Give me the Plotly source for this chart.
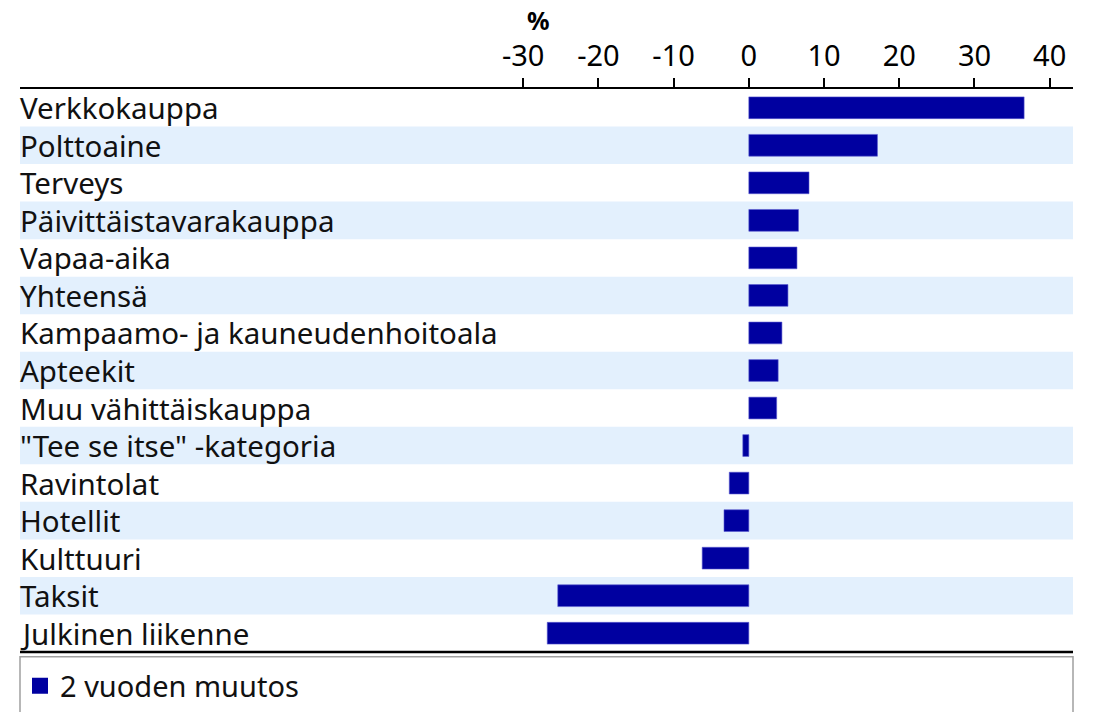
import plotly.graph_objects as go

# Données
categories = [
    "Verkkokauppa", "Polttoaine", "Terveys", "Päivittäistavarakauppa", "Vapaa-aika",
    "Yhteensä", "Kampaamo- ja kauneudenhoitoala", "Apteekit", "Muu vähittäiskauppa",
    "\"Tee se itse\" -kategoria", "Ravintolat", "Hotellit", "Kulttuuri", "Taksit",
    "Julkinen liikenne",
]
muutos = [36.6, 17.1, 8.0, 6.6, 6.4, 5.2, 4.4, 3.9, 3.7, -0.8, -2.6, -3.3, -6.2, -25.4, -26.8]
tick_vals = [-30, -20, -10, 0, 10, 20, 30, 40]
serie_nom = "2 vuoden muutos"

police = "Noto Sans"
bleu = "#0000a0"
rayure = "#e3f0fd"

fig = go.Figure()

fig.add_trace(go.Bar(
    y=categories,
    x=muutos,
    orientation="h",
    name=serie_nom,
    width=0.58,
    marker=dict(color=bleu, line=dict(color="#5a5ad0", width=0.6)),
    showlegend=False,
))

# Trace fantôme pour avoir un carré de légende plus grand
fig.add_trace(go.Scatter(
    x=[None], y=[None],
    mode="markers",
    name=serie_nom,
    marker=dict(symbol="square", size=17, color=bleu),
    showlegend=True,
))

# Bandes alternées + libellés à gauche
shapes = []
annotations = []
for i, cat in enumerate(categories):
    if i % 2 == 1:
        shapes.append(dict(type="rect", xref="paper", yref="y", x0=0, x1=1,
                           y0=i - 0.5, y1=i + 0.5, fillcolor=rayure,
                           line=dict(width=0), layer="below"))
    annotations.append(dict(x=0, y=cat, xref="paper", yref="y", text=cat,
                            showarrow=False, xanchor="left", yanchor="middle", xshift=-2,
                            font=dict(family=police, size=29.5, color="#111111")))

# Ligne du bas et cadre de la légende
shapes.append(dict(type="line", xref="paper", yref="paper", x0=0, x1=1, y0=0, y1=0,
                   line=dict(color="black", width=2.5)))
shapes.append(dict(type="rect", xref="paper", yref="paper", x0=0, x1=1, y0=-0.0085, y1=-0.3,
                   line=dict(color="#a0a0a0", width=1.5), fillcolor="rgba(0,0,0,0)"))

annotations.append(dict(x=-28, y=1.122, xref="x", yref="paper", text="<b>%</b>",
                        showarrow=False, xanchor="center", yanchor="middle",
                        font=dict(family=police, size=25, color="black")))

fig.update_layout(
    width=1095,
    height=712,
    # pas d'expansion auto : la légende sort volontairement du cadre
    margin=dict(l=12, r=30, t=81, b=68, autoexpand=False),
    plot_bgcolor="white",
    paper_bgcolor="white",
    font=dict(family=police, size=28, color="black"),
    shapes=shapes,
    annotations=annotations,
    xaxis=dict(
        side="top",
        range=[-96.9, 43.1],
        tickmode="array",
        tickvals=tick_vals,
        ticktext=[str(v) for v in tick_vals],
        ticks="outside",
        ticklen=9,
        tickwidth=1.5,
        tickcolor="black",
        showline=True,
        linecolor="black",
        linewidth=2,
        showgrid=False,
        zeroline=False,
        automargin=False,
        tickfont=dict(family=police, size=29, color="black"),
    ),
    yaxis=dict(
        range=[14.5, -0.5],
        showticklabels=False,
        showgrid=False,
        zeroline=False,
        automargin=False,
        ticks="",
    ),
    legend=dict(
        orientation="h",
        x=0,
        y=-0.06,
        xanchor="left",
        yanchor="middle",
        font=dict(family=police, size=29, color="#111111"),
        bgcolor="rgba(0,0,0,0)",
    ),
)

fig.write_html("out.html")
